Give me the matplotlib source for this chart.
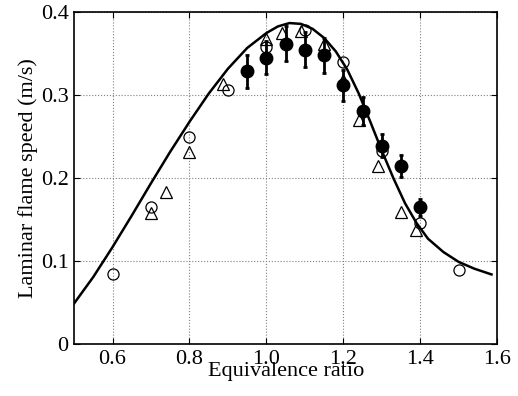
import matplotlib
matplotlib.use("Agg")
import matplotlib.pyplot as plt

plt.rcParams['font.family'] = ['Liberation Serif', 'DejaVu Serif']

# model curve
curve_phi = [0.50, 0.55, 0.60, 0.65, 0.70, 0.75, 0.80, 0.85, 0.90, 0.95,
             1.00, 1.03, 1.06, 1.09, 1.12, 1.15, 1.18, 1.21, 1.24, 1.27,
             1.30, 1.33, 1.36, 1.39, 1.42, 1.46, 1.50, 1.54, 1.585]
curve_sl = [0.049, 0.081, 0.117, 0.155, 0.194, 0.232, 0.268, 0.302, 0.332, 0.357,
            0.375, 0.383, 0.387, 0.386, 0.380, 0.369, 0.353, 0.331, 0.302, 0.268,
            0.233, 0.200, 0.170, 0.146, 0.127, 0.111, 0.099, 0.091, 0.084]

# measured data with error bars
meas_phi = [0.95, 1.00, 1.05, 1.10, 1.15, 1.20, 1.25, 1.30, 1.35, 1.40]
meas_sl = [0.329, 0.345, 0.362, 0.355, 0.348, 0.312, 0.281, 0.239, 0.215, 0.165]
meas_err = [0.020, 0.020, 0.021, 0.021, 0.021, 0.019, 0.017, 0.014, 0.013, 0.010]

# open circles
circ_phi = [0.60, 0.70, 0.80, 0.90, 1.00, 1.10, 1.20, 1.30, 1.40, 1.50]
circ_sl = [0.084, 0.165, 0.250, 0.306, 0.358, 0.379, 0.340, 0.233, 0.146, 0.089]

# open triangles
tri_phi = [0.70, 0.74, 0.80, 0.887, 1.00, 1.04, 1.09, 1.15, 1.20, 1.24, 1.29, 1.35, 1.39]
tri_sl = [0.158, 0.183, 0.231, 0.314, 0.368, 0.375, 0.378, 0.362, 0.318, 0.270,
          0.215, 0.159, 0.137]

fig = plt.figure(figsize=(5.18, 3.96), dpi=100)
ax = fig.add_axes([0.143, 0.131, 0.817, 0.838])

ax.plot(curve_phi, curve_sl, color='black', lw=1.8, zorder=2,
        solid_joinstyle='round')
ax.plot(circ_phi, circ_sl, 'o', mfc='none', mec='black', ms=8, mew=0.9, zorder=3)
ax.plot(tri_phi, tri_sl, '^', mfc='none', mec='black', ms=9, mew=0.9, zorder=3)
ax.errorbar(meas_phi, meas_sl, yerr=meas_err, fmt='o', color='black', ms=9,
            elinewidth=2, capsize=1.5, capthick=2, zorder=4)

ax.set_xlim(0.5, 1.6)
ax.set_ylim(0, 0.4)
ax.set_xticks([0.6, 0.8, 1.0, 1.2, 1.4, 1.6])
ax.set_xticklabels(['0.6', '0.8', '1.0', '1.2', '1.4', '1.6'])
ax.set_yticks([0, 0.1, 0.2, 0.3, 0.4])
ax.set_yticklabels(['0', '0.1', '0.2', '0.3', '0.4'])
ax.tick_params(direction='in', top=True, right=True, labelsize=16, length=4, pad=4)
ax.grid(True, linestyle=':', color='gray', lw=0.8)
for s in ax.spines.values():
    s.set_linewidth(1.2)

ax.set_xlabel('Equivalence ratio', fontsize=16, labelpad=-5)
ax.set_ylabel('Laminar flame speed (m/s)', fontsize=16, labelpad=2)

fig.savefig('out.png', dpi=100)
